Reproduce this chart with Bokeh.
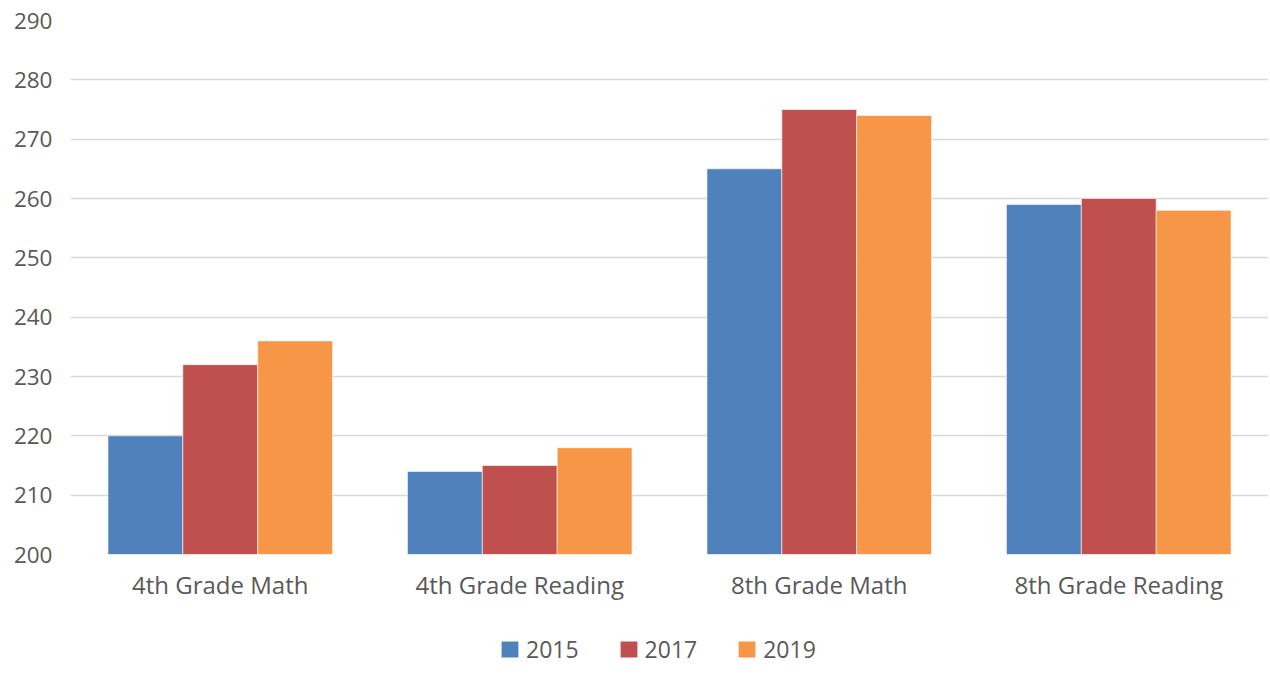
from bokeh.plotting import figure
from bokeh.layouts import column
from bokeh.models import ColumnDataSource, FactorRange, Range1d, Legend, LegendItem, SingleIntervalTicker
from bokeh.transform import dodge
from bokeh.embed import file_html
from bokeh.resources import INLINE

categories = ["4th Grade Math", "4th Grade Reading", "8th Grade Math", "8th Grade Reading"]
years = ["2015", "2017", "2019"]
scores_2015 = [220, 214, 265, 259]
scores_2017 = [232, 215, 275, 260]
scores_2019 = [236, 218, 274, 258]
colors = ["#4F81BD", "#C0504D", "#F79646"]

TEXT = "#595959"
FONT = "Open Sans"

source = ColumnDataSource(dict(cat=categories, y2015=scores_2015, y2017=scores_2017, y2019=scores_2019))
keys = ["y2015", "y2017", "y2019"]
offsets = [-0.25, 0.0, 0.25]

p = figure(width=1268, height=603, x_range=FactorRange(*categories), y_range=Range1d(200, 290),
           output_backend="svg", toolbar_location=None,
           min_border_left=70, min_border_right=0, min_border_top=20, min_border_bottom=49)

for off, key, col in zip(offsets, keys, colors):
    p.vbar(x=dodge("cat", off, range=p.x_range), top=key, bottom=200, width=0.25,
           source=source, fill_color=col, line_color="white", line_width=0.6)

p.outline_line_color = None
p.xgrid.grid_line_color = None
p.ygrid.grid_line_color = "#D9D9D9"
p.ygrid.grid_line_width = 1.5
p.yaxis.ticker = SingleIntervalTicker(interval=10)
for ax in (p.xaxis, p.yaxis):
    ax.axis_line_color = None
    ax.major_tick_line_color = None
    ax.minor_tick_line_color = None
    ax.major_tick_out = 0
    ax.major_label_text_color = TEXT
    ax.major_label_text_font = FONT
p.yaxis.major_label_text_font_size = "22.5px"
p.xaxis.major_label_text_font_size = "24px"
p.yaxis.major_label_standoff = 14
p.xaxis.major_label_standoff = 13

# legend strip below the chart (its renderers are hidden copies of the series)
lg = figure(width=1268, height=67, x_range=p.x_range, y_range=Range1d(0, 1),
            x_axis_type=None, y_axis_type=None,
            output_backend="svg", toolbar_location=None,
            min_border_left=0, min_border_right=0, min_border_top=0, min_border_bottom=0)
lg.grid.visible = False
lg.outline_line_color = None
items = []
for y, off, key, col in zip(years, offsets, keys, colors):
    r = lg.vbar(x=dodge("cat", off, range=lg.x_range), top=key, bottom=200, width=0.25,
                source=source, fill_color=col, line_color=None, visible=False)
    items.append(LegendItem(label=y, renderers=[r]))

legend = Legend(items=items, orientation="horizontal", location=(429, 5),
                label_text_font=FONT, label_text_font_size="23px", label_text_color=TEXT,
                glyph_width=21, glyph_height=20, label_standoff=6, spacing=39,
                border_line_color=None, background_fill_alpha=0, margin=0, padding=0)
lg.add_layout(legend, "center")

layout = column(p, lg, spacing=0)
open("out.html", "w").write(file_html(layout, INLINE))
